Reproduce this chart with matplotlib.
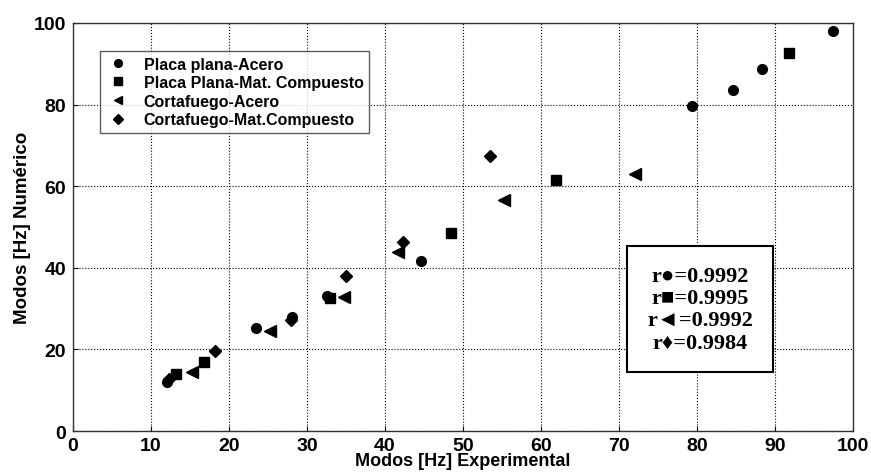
import matplotlib.pyplot as plt

# Placa plana - Acero (circles)
pa_exp = [12.1, 23.5, 28.1, 32.6, 44.6, 79.4, 84.6, 88.4, 97.4]
pa_num = [12.0, 25.3, 28.0, 33.2, 41.7, 79.6, 83.6, 88.8, 98.0]
# Placa plana - Mat. Compuesto (squares)
pc_exp = [13.2, 16.8, 33.0, 48.4, 61.9, 91.8]
pc_num = [13.9, 17.0, 32.6, 48.6, 61.5, 92.6]
# Cortafuego - Acero (left triangles)
ca_exp = [15.2, 25.3, 34.8, 41.7, 55.2, 72.1]
ca_num = [14.4, 24.6, 32.8, 43.9, 56.6, 62.9]
# Cortafuego - Mat. Compuesto (diamonds)
cc_exp = [12.3, 18.2, 27.9, 35.0, 42.3, 53.5]
cc_num = [12.8, 19.6, 27.3, 38.1, 46.3, 67.5]

labels = ["Placa plana-Acero", "Placa Plana-Mat. Compuesto",
          "Cortafuego-Acero", "Cortafuego-Mat.Compuesto"]
r_text = "r\u25cf=0.9992\nr\u25a0=0.9995\nr\u25c4=0.9992\nr\u2666=0.9984"

plt.rcParams['font.family'] = ['Liberation Sans', 'DejaVu Sans']
plt.rcParams['font.weight'] = 'bold'

fig = plt.figure(figsize=(8.71, 4.77), dpi=100)
ax = fig.add_axes([0.0838, 0.0943, 0.8955, 0.8554])

ax.plot(pa_exp, pa_num, 'o', color='black', ms=7, label=labels[0])
ax.plot(pc_exp, pc_num, 's', color='black', ms=6.5, label=labels[1])
ax.plot(ca_exp, ca_num, '<', color='black', ms=8, label=labels[2])
ax.plot(cc_exp, cc_num, 'D', color='black', ms=6, label=labels[3])

ax.set_xlim(0, 100)
ax.set_ylim(0, 100)
ax.set_xticks(range(0, 101, 10))
ax.set_yticks(range(0, 101, 20))
ax.grid(True, linestyle=':', color='black', linewidth=0.8)
ax.tick_params(direction='in', labelsize=14)
ax.tick_params(axis='x', pad=4)
ax.tick_params(axis='y', pad=5)
for lab in ax.get_xticklabels() + ax.get_yticklabels():
    lab.set_fontweight('bold')
for s in ax.spines.values():
    s.set_color('#333333')
    s.set_linewidth(1.0)

ax.set_xlabel("Modos [Hz] Experimental", fontsize=13, fontweight='bold', labelpad=-1)
ax.set_ylabel("Modos [Hz] Numérico", fontsize=13.5, fontweight='bold', labelpad=2)

leg = ax.legend(loc='upper left', bbox_to_anchor=(0.024, 0.951),
                frameon=True, fancybox=False, edgecolor='#333333',
                markerscale=0.8, handlelength=1.6, handletextpad=0.8,
                borderpad=0.35, labelspacing=0.22,
                prop={'weight': 'bold', 'size': 11.5})
leg.get_frame().set_linewidth(1.0)

ax.text(0.804, 0.299, r_text, transform=ax.transAxes, ha='center', va='center',
        fontsize=16, fontweight='bold', linespacing=1.15,
        family=['Liberation Serif', 'DejaVu Sans'],
        bbox=dict(boxstyle='square,pad=0.9', facecolor='white',
                  edgecolor='black', linewidth=1.5))

fig.savefig("out.png", dpi=100)
